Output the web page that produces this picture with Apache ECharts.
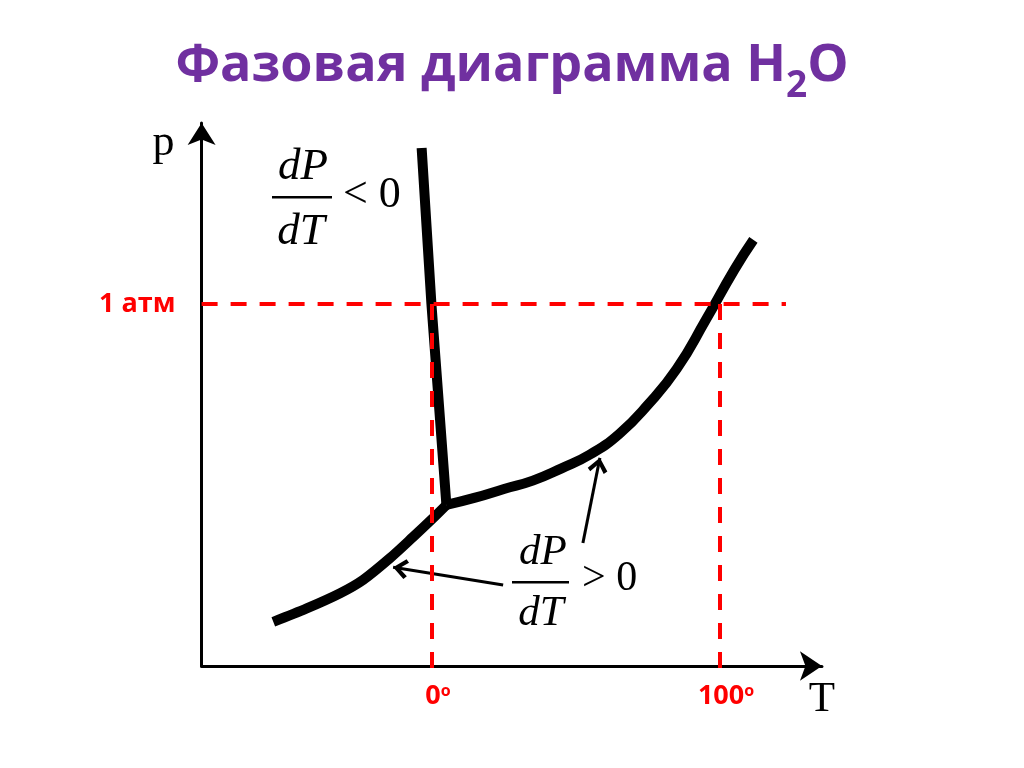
<!DOCTYPE html>
<html><head><meta charset="utf-8">
<script src="https://cdn.jsdelivr.net/npm/echarts@6/dist/echarts.min.js"></script>
<style>html,body{margin:0;padding:0;background:#fff}#c{width:1024px;height:768px}</style>
</head><body><div id="c"></div>
<script>
// ---- data (T in °C, p in atm) ----
const titleMain = 'Фазовая диаграмма H';
const titleSub = '2';
const titleEnd = 'O';
const tempTicks = [0, 100];
const pressTicks = [1];
const pressLabel = '1 атм';
const meltCurve = [[-3.6, 1.431], [-0.2, 1.0], [5.0, 0.445]];
const vaporCurve = [[5.0, 0.445], [15, 0.465], [25, 0.489], [35, 0.512], [45, 0.546], [55, 0.585], [65, 0.641], [75, 0.722], [85, 0.821], [95, 0.955], [105, 1.095], [111.6, 1.177]];
const sublimationCurve = [[-55.1, 0.122], [-43.5, 0.159], [-31.9, 0.201], [-23.9, 0.238], [-14.6, 0.298], [-6.5, 0.357], [-0.1, 0.405], [5.0, 0.445]];
const guide1atm = [[-80, 1], [122.9, 1]];
const guide0 = [[0, 1], [0, -0.019]];
const guide100 = [[100, 1], [100, -0.019]];
const arrowSub = [[24.7, 0.224], [-13.5, 0.273]];
const arrowVap = [[52.4, 0.340], [58.3, 0.575]];

const chevron = 'path://M7,10 L14,18 L11.8,20 L7,14.2 L2.2,20 L0,18 Z M7,0 L7.01,0 L7,0.01 Z';
const RED = '#ff0000';
const serif = 'Liberation Serif, Times New Roman, serif';
const sans = 'Open Sans, sans-serif';

const chart = echarts.init(document.getElementById('c'), null, {renderer: 'canvas'});
const blackLine = {color: '#000', width: 10, cap: 'butt', join: 'round'};
const redLine = {color: RED, width: 4, type: [16, 13]};

chart.setOption({
  animation: false,
  backgroundColor: '#fff',
  title: {
    text: '{a|' + titleMain + '}{b|' + titleSub + '}{a|' + titleEnd + '}',
    left: 'center', top: 28, padding: 0,
    textStyle: {
      rich: {
        a: {fontSize: 52, fontWeight: 'bold', color: '#7030A0', fontFamily: sans},
        b: {fontSize: 37, fontWeight: 'bold', color: '#7030A0', fontFamily: sans, padding: [40, 0, 0, 0]}
      }
    }
  },
  grid: {left: 201.6, top: 666 - 1.5 * 362, width: 215.4 * 2.88, height: 1.5 * 362, containLabel: false},
  xAxis: {
    type: 'value', min: -80, max: 135.4,
    splitLine: {show: false}, axisTick: {show: false},
    axisLine: {onZero: false, symbol: ['none', 'arrow'], symbolSize: [22, 22], lineStyle: {color: '#000', width: 3}},
    axisLabel: {
      customValues: tempTicks, margin: 17, padding: [0, 0, 0, 12],
      formatter: v => '{d|' + v + '}{s|o}',
      rich: {
        d: {fontSize: 27, fontWeight: 'bold', color: RED, fontFamily: sans},
        s: {fontSize: 16, fontWeight: 'bold', color: RED, fontFamily: sans, verticalAlign: 'top'}
      }
    }
  },
  yAxis: {
    type: 'value', min: 0, max: 1.5,
    splitLine: {show: false}, axisTick: {show: false},
    axisLine: {onZero: false, symbol: ['none', 'arrow'], symbolSize: [21, 22], lineStyle: {color: '#000', width: 3}},
    axisLabel: {
      customValues: pressTicks, margin: 26,
      formatter: () => pressLabel,
      fontSize: 27, fontWeight: 'bold', color: RED, fontFamily: sans
    }
  },
  series: [
    {type: 'line', data: sublimationCurve, smooth: 0.3, showSymbol: false, lineStyle: blackLine, silent: true,
     markLine: {
       silent: true, symbol: ['none', chevron], symbolSize: [20, 30],
       label: {show: false}, emphasis: {disabled: true},
       lineStyle: {color: '#000', width: 3, type: 'solid'},
       data: [
         [{coord: arrowSub[0]}, {coord: arrowSub[1]}],
         [{coord: arrowVap[0]}, {coord: arrowVap[1]}]
       ]
     }},
    {type: 'line', data: meltCurve, smooth: false, showSymbol: false, lineStyle: blackLine, silent: true},
    {type: 'line', data: vaporCurve, smooth: 0.5, showSymbol: false, lineStyle: blackLine, silent: true},
    {type: 'line', data: guide1atm, showSymbol: false, lineStyle: redLine, silent: true, clip: false, z: 5},
    {type: 'line', data: guide0, showSymbol: false, lineStyle: redLine, silent: true, clip: false, z: 5},
    {type: 'line', data: guide100, showSymbol: false, lineStyle: redLine, silent: true, clip: false, z: 5}
  ],
  graphic: [
    {type: 'text', x: 163.5, y: 143, style: {text: 'p', font: '44px ' + serif, fill: '#000', align: 'center', verticalAlign: 'middle'}},
    {type: 'text', x: 822, y: 700, style: {text: 'T', font: '43px ' + serif, fill: '#000', align: 'center', verticalAlign: 'middle'}},
    // dP/dT < 0
    {type: 'text', x: 303, y: 167, style: {text: 'dP', font: 'italic 45px ' + serif, fill: '#000', align: 'center', verticalAlign: 'middle'}},
    {type: 'rect', shape: {x: 272, y: 196, width: 60, height: 2.5}, style: {fill: '#000'}},
    {type: 'text', x: 301, y: 232, style: {text: 'dT', font: 'italic 45px ' + serif, fill: '#000', align: 'center', verticalAlign: 'middle'}},
    {type: 'text', x: 343, y: 195, style: {text: '< 0', font: '44px ' + serif, fill: '#000', align: 'left', verticalAlign: 'middle'}},
    // dP/dT > 0
    {type: 'text', x: 543, y: 553, style: {text: 'dP', font: 'italic 43px ' + serif, fill: '#000', align: 'center', verticalAlign: 'middle'}},
    {type: 'rect', shape: {x: 512, y: 581, width: 57, height: 2.5}, style: {fill: '#000'}},
    {type: 'text', x: 541, y: 614, style: {text: 'dT', font: 'italic 43px ' + serif, fill: '#000', align: 'center', verticalAlign: 'middle'}},
    {type: 'text', x: 582, y: 579, style: {text: '> 0', font: '42px ' + serif, fill: '#000', align: 'left', verticalAlign: 'middle'}}
  ]
});
</script>
</body></html>
